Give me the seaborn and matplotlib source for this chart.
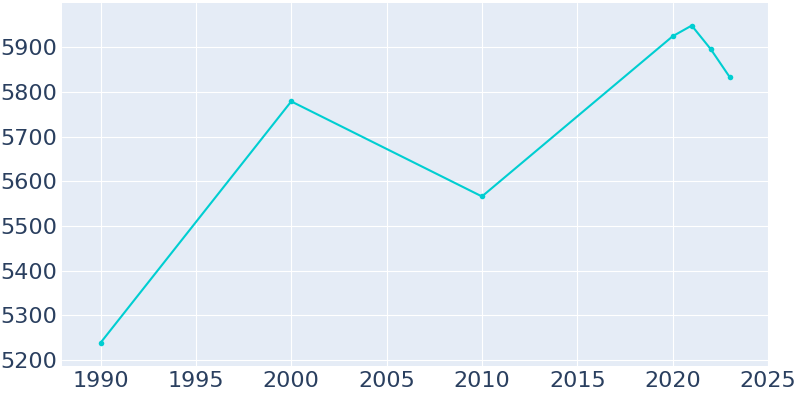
import matplotlib
matplotlib.use("Agg")
import matplotlib.pyplot as plt
import seaborn as sns
import pandas as pd

years = [1990, 2000, 2010, 2020, 2021, 2022, 2023]
population = [5238, 5779, 5566, 5925, 5949, 5896, 5833]

sns.set_style("darkgrid", {"axes.facecolor": "#e5ecf6", "grid.color": "white"})
fig = plt.figure(figsize=(8, 4), dpi=100)
ax = fig.add_axes([0.078, 0.085, 0.882, 0.908])
df = pd.DataFrame({"year": years, "pop": population})
sns.lineplot(data=df, x="year", y="pop", ax=ax, color="#00ced1", marker="o",
             markersize=4, markeredgewidth=0, linewidth=1.5)
ax.set_xlim(1988, 2025)
ax.set_ylim(5186, 6000)
ax.set_xticks(range(1990, 2026, 5))
ax.set_yticks(range(5200, 5901, 100))
ax.set_xlabel("")
ax.set_ylabel("")
ax.tick_params(labelsize=16, colors="#2a3f5f", length=0)
for s in ax.spines.values():
    s.set_visible(False)
fig.savefig("out.png")
